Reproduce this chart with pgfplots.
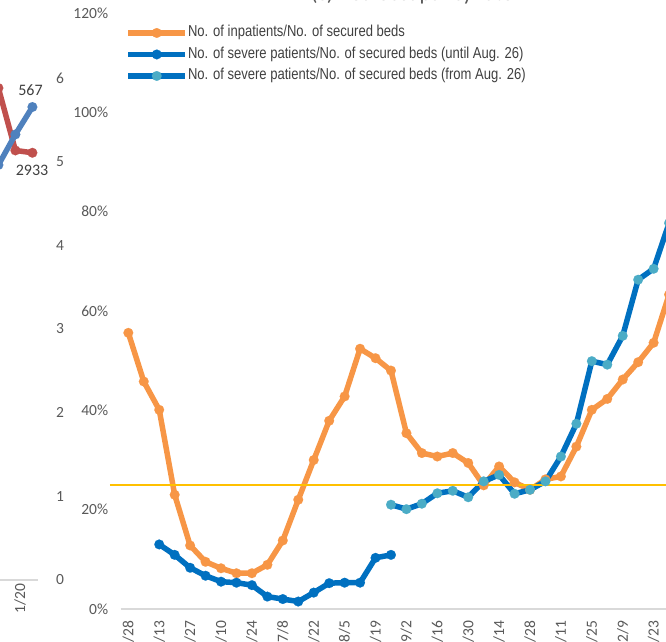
\documentclass[border=0pt]{standalone}
\usepackage{fontspec}
\setmainfont{Carlito}
\newfontfamily\narrowfont[FakeStretch=0.825]{Liberation Sans}
\usepackage{pgfplots}
\pgfplotsset{compat=1.18}
\definecolor{cOrange}{HTML}{F79646}
\definecolor{cBlue}{HTML}{0070C0}
\definecolor{cLight}{HTML}{4BACC6}
\definecolor{cGold}{HTML}{FFC000}
\definecolor{cGrid}{HTML}{D9D9D9}
\definecolor{cText}{HTML}{595959}
\definecolor{cDark}{HTML}{404040}
\definecolor{cRed}{HTML}{C0504D}
\definecolor{cSteel}{HTML}{4F81BD}
\newcommand{\tickfont}{\fontsize{15.5bp}{18bp}\selectfont}
\begin{document}
\begin{tikzpicture}
\useasboundingbox (0,0) rectangle (666bp,642bp);
\clip (0,0) rectangle (666bp,642bp);
% title (cut off at the top)
\node[anchor=base, text=cText, font=\fontsize{22bp}{26bp}\selectfont] at (412bp,641.5bp) {(c) Bed occupancy rate};
% ---------- fragment of the neighbouring chart ----------
\begin{axis}[at={(-137.6bp,62bp)}, anchor=south west, scale only axis,
  width=176.1bp, height=585.7bp, xmin=0, xmax=10.3588, ymin=0, ymax=7, clip=false,
  axis x line*=bottom, axis y line*=right,
  x axis line style={draw=cGrid, line width=1.5bp, -},
  y axis line style={draw=none},
  major tick length=0pt,
  xtick={9.27}, xticklabels={1/20},
  xticklabel style={rotate=90, anchor=east, font=\tickfont, text=cText},
  ytick={0,1,...,7},
  yticklabel style={font=\tickfont, text=cText, xshift=14bp},
  /pgf/number format/assume math mode=true]
\addplot[cRed, line width=5.5bp, mark=*, mark size=4.9bp, mark options={line width=0.1bp, draw=cRed, fill=cRed}]
  coordinates {(8,5.88) (9,5.134) (10,5.106)};
\addplot[cSteel, line width=5.5bp, mark=*, mark size=4.9bp, mark options={line width=0.1bp, draw=cSteel, fill=cSteel}]
  coordinates {(8,4.96) (9,5.325) (10,5.653)};
\node[font=\fontsize{16bp}{19bp}\selectfont, text=cDark] at (axis cs:9.89,5.856) {567};
\node[font=\fontsize{16bp}{19bp}\selectfont, text=cDark] at (axis cs:9.98,4.90) {2933};
\end{axis}
% ---------- main chart ----------
\begin{axis}[at={(120.6bp,33bp)}, anchor=south west, scale only axis,
  width=556.2bp, height=596bp, xmin=0.5, xmax=36.5, ymin=0, ymax=120, clip=false,
  axis x line*=bottom, axis y line*=left,
  x axis line style={draw=cGrid, line width=1.5bp, -},
  y axis line style={draw=none},
  major tick length=0pt,
  xtick={1,3,...,35},
  xticklabels={4/28,5/13,5/27,6/10,6/24,7/8,7/22,8/5,8/19,9/2,9/16,9/30,10/14,10/28,11/11,11/25,12/9,12/23},
  xticklabel style={rotate=90, anchor=east, font=\tickfont, text=cText},
  xticklabel shift=8bp,
  ytick={0,20,...,120},
  yticklabel={\pgfmathprintnumber{\tick}\%},
  yticklabel style={font=\tickfont, text=cText, xshift=-9bp},
  /pgf/number format/assume math mode=true,
  legend style={at={(0.0085,0.979)}, anchor=north west, draw=none, fill=none,
    inner sep=0pt, row sep=7bp, font=\narrowfont\fontsize{15.8bp}{18bp}\selectfont, text=cDark,
    nodes={inner sep=0pt, text height=11bp, text depth=3.5bp},
    /tikz/every even column/.append style={column sep=0bp}},
  legend cell align=left,
  legend image code/.code={\draw[mark repeat=2, mark phase=2, #1] plot coordinates {(0bp,0bp) (28.5bp,0bp) (57bp,0bp)};}]
\addplot[cOrange, line width=5.5bp, mark=*, mark size=4.9bp, mark options={line width=0.1bp, draw=cOrange, fill=cOrange}]
  coordinates {(1,55.6) (2,45.8) (3,40.1) (4,23.0) (5,12.8) (6,9.5) (7,8.2) (8,7.2) (9,7.2) (10,8.9)
  (11,13.8) (12,22.0) (13,30.0) (14,37.9) (15,42.8) (16,52.4) (17,50.5) (18,48.0) (19,35.4) (20,31.4)
  (21,30.7) (22,31.4) (23,29.4) (24,24.9) (25,28.7) (26,25.5) (27,24.0) (28,26.1) (29,26.7) (30,32.7)
  (31,40.1) (32,42.3) (33,46.2) (34,49.7) (35,53.6) (36,63.3)};
\addlegendentry{No. of inpatients/No. of secured beds}
\addplot[cBlue, line width=5.5bp, mark=*, mark size=4.9bp, mark options={line width=0.1bp, draw=cBlue, fill=cBlue}]
  coordinates {(3,13.0) (4,10.9) (5,8.3) (6,6.7) (7,5.5) (8,5.3) (9,4.8) (10,2.5) (11,2.0) (12,1.5)
  (13,3.3) (14,5.2) (15,5.3) (16,5.3) (17,10.3) (18,10.9)};
\addlegendentry{No. of severe patients/No. of secured beds (until Aug. 26)}
\addplot[cBlue, line width=5.5bp, mark=*, mark size=4.9bp, mark options={line width=0.1bp, draw=cLight, fill=cLight}]
  coordinates {(18,21.0) (19,20.1) (20,21.2) (21,23.3) (22,23.8) (23,22.5) (24,25.7) (25,27.0) (26,23.2)
  (27,24.0) (28,25.7) (29,30.7) (30,37.3) (31,49.9) (32,49.2) (33,55.0) (34,66.3) (35,68.5) (36,77.7)};
\addlegendentry{No. of severe patients/No. of secured beds (from Aug. 26)}
\addplot[cGold, line width=2bp, forget plot] coordinates {(-0.2,25) (36.5,25)};
\end{axis}
\end{tikzpicture}
\end{document}
